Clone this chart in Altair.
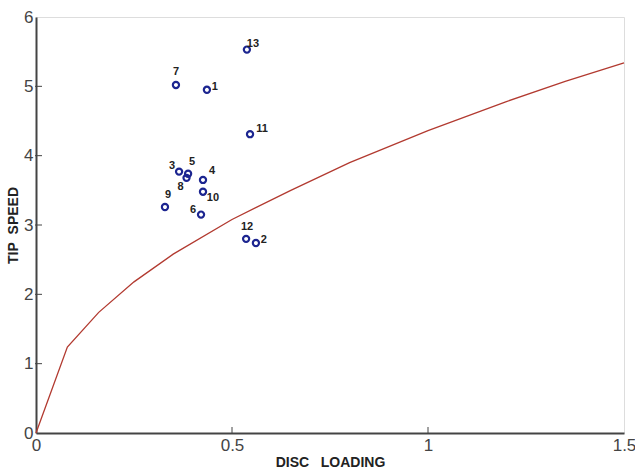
import altair as alt
import pandas as pd

# Scatter points (disc loading, tip speed)
point_ids = ["1", "2", "3", "4", "5", "6", "7", "8", "9", "10", "11", "12", "13"]
disc_loading = [0.436, 0.561, 0.365, 0.426, 0.388, 0.421, 0.357, 0.384, 0.329, 0.426, 0.546, 0.536, 0.538]
tip_speed = [4.95, 2.74, 3.77, 3.65, 3.74, 3.15, 5.02, 3.68, 3.26, 3.48, 4.31, 2.80, 5.53]

# Red reference curve
curve_x = [0, 0.08, 0.16, 0.25, 0.35, 0.5, 0.65, 0.8, 1.0, 1.2, 1.35, 1.5]
curve_y = [0, 1.24, 1.74, 2.18, 2.58, 3.08, 3.50, 3.90, 4.36, 4.78, 5.07, 5.34]

x_ticks = [0, 0.5, 1, 1.5]
y_ticks = [0, 1, 2, 3, 4, 5, 6]

# label placement (style only)
label_offsets = {
    "1": (8, -3), "2": (8, -3), "3": (-7, -6), "4": (9, -9), "5": (4, -12),
    "6": (-8, -5), "7": (0, -13), "8": (-6, 9), "9": (3, -12), "10": (10, 6),
    "11": (12, -5), "12": (1, -12), "13": (6, -6),
}

W, H = 588, 416
NB = "\u00a0"
FONT = "Liberation Sans Narrow, Liberation Sans, Arial"

pts = pd.DataFrame({"id": point_ids, "x": disc_loading, "y": tip_speed})
curve = pd.DataFrame({"x": curve_x, "y": curve_y})

xs = alt.Scale(domain=[0, 1.5], nice=False, zero=False)
ys = alt.Scale(domain=[0, 6], nice=False, zero=False)

xaxis = alt.Axis(values=x_ticks, title="DISC" + NB * 3 + "LOADING", tickSize=0, labelPadding=4,
                 grid=False, domainColor="#444", domainWidth=2, labelFontSize=17,
                 labelColor="#444", labelFont=FONT, titleFont=FONT,
                 titleFontSize=14, titleFontWeight="bold", titleColor="#222", titlePadding=2,
                 labelFlush=False, format="~g")
yaxis = alt.Axis(values=y_ticks, title="TIP" + NB * 2 + "SPEED", tickSize=0, labelPadding=3,
                 grid=False, domainColor="#444", domainWidth=2, labelFontSize=17,
                 labelColor="#444", labelFont=FONT, titleFont=FONT,
                 titleFontSize=14, titleFontWeight="bold", titleColor="#222", titlePadding=3,
                 labelFlush=False, format="~g")

line = alt.Chart(curve).mark_line(color="#b23a30", strokeWidth=1.3).encode(
    x=alt.X("x:Q", scale=xs, axis=xaxis),
    y=alt.Y("y:Q", scale=ys, axis=yaxis),
)

# inward ticks
xt = pd.DataFrame({"x": x_ticks[1:-1]})
yt = pd.DataFrame({"y": y_ticks[1:-1]})
xtick_layer = alt.Chart(xt).mark_rule(color="#444", strokeWidth=1).encode(
    x=alt.X("x:Q", scale=xs), y=alt.value(H), y2=alt.value(H - 6))
ytick_layer = alt.Chart(yt).mark_rule(color="#444", strokeWidth=1).encode(
    y=alt.Y("y:Q", scale=ys), x=alt.value(-1), x2=alt.value(6))

points = alt.Chart(pts).mark_point(shape="circle", filled=False, color="#1c2590",
                                   strokeWidth=2.2, size=38, opacity=1).encode(
    x=alt.X("x:Q", scale=xs), y=alt.Y("y:Q", scale=ys))

label_layers = []
for pid, (dx, dy) in label_offsets.items():
    label_layers.append(
        alt.Chart(pts).transform_filter(alt.datum.id == pid).mark_text(
            dx=dx, dy=dy, fontSize=11, fontWeight="bold", color="#222",
            font="Liberation Sans", align="center", baseline="middle").encode(
            x=alt.X("x:Q", scale=xs), y=alt.Y("y:Q", scale=ys), text="id:N")
    )

chart = alt.layer(line, xtick_layer, ytick_layer, points, *label_layers).properties(
    width=W, height=H,
    autosize=alt.AutoSizeParams(type="none"),
    padding={"left": 36, "top": 17, "right": 11, "bottom": 40},
).configure_view(stroke="#444", strokeWidth=2).configure(background="white")

chart.save("out.html", embed_options={"renderer": "svg", "actions": False})
